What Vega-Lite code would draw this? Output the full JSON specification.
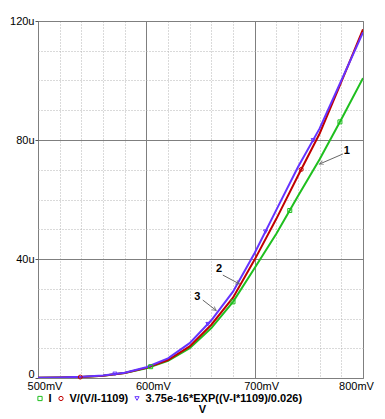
{
  "$schema": "https://vega.github.io/schema/vega-lite/v6.json",
  "width": 325,
  "height": 357,
  "autosize": {"type": "none"},
  "padding": {"left": 38, "top": 21, "right": 22, "bottom": 41},
  "background": "white",
  "config": {
    "font": "Liberation Sans",
    "view": {"stroke": "#7f7f7f", "strokeWidth": 1},
    "axis": {"labelFont": "Liberation Sans", "labelFontSize": 11, "labelColor": "#000000"}
  },
  "datasets": {
    "curves": [
      {"V": 500, "I": 0.05, "s": "I"}, {"V": 520, "I": 0.14, "s": "I"}, {"V": 540, "I": 0.33, "s": "I"},
      {"V": 560, "I": 0.75, "s": "I"}, {"V": 580, "I": 1.65, "s": "I"}, {"V": 600, "I": 3.3, "s": "I"},
      {"V": 620, "I": 5.8, "s": "I"}, {"V": 640, "I": 10.0, "s": "I"}, {"V": 660, "I": 16.8, "s": "I"},
      {"V": 680, "I": 25.6, "s": "I"}, {"V": 700, "I": 37.0, "s": "I"}, {"V": 720, "I": 48.5, "s": "I"},
      {"V": 740, "I": 61.2, "s": "I"}, {"V": 760, "I": 73.5, "s": "I"}, {"V": 780, "I": 87.0, "s": "I"},
      {"V": 800, "I": 100.8, "s": "I"},
      {"V": 500, "I": 0.05, "s": "V/(V/I-1109)"}, {"V": 520, "I": 0.14, "s": "V/(V/I-1109)"}, {"V": 540, "I": 0.33, "s": "V/(V/I-1109)"},
      {"V": 560, "I": 0.76, "s": "V/(V/I-1109)"}, {"V": 580, "I": 1.7, "s": "V/(V/I-1109)"}, {"V": 600, "I": 3.4, "s": "V/(V/I-1109)"},
      {"V": 620, "I": 6.05, "s": "V/(V/I-1109)"}, {"V": 640, "I": 10.6, "s": "V/(V/I-1109)"}, {"V": 660, "I": 17.9, "s": "V/(V/I-1109)"},
      {"V": 680, "I": 27.0, "s": "V/(V/I-1109)"}, {"V": 700, "I": 39.8, "s": "V/(V/I-1109)"}, {"V": 720, "I": 53.5, "s": "V/(V/I-1109)"},
      {"V": 740, "I": 68.0, "s": "V/(V/I-1109)"}, {"V": 760, "I": 82.2, "s": "V/(V/I-1109)"}, {"V": 780, "I": 99.5, "s": "V/(V/I-1109)"},
      {"V": 800, "I": 117.2, "s": "V/(V/I-1109)"},
      {"V": 500, "I": 0.08, "s": "3.75e-16*EXP((V-I*1109)/0.026)"}, {"V": 520, "I": 0.17, "s": "3.75e-16*EXP((V-I*1109)/0.026)"},
      {"V": 540, "I": 0.38, "s": "3.75e-16*EXP((V-I*1109)/0.026)"}, {"V": 560, "I": 0.83, "s": "3.75e-16*EXP((V-I*1109)/0.026)"},
      {"V": 580, "I": 1.8, "s": "3.75e-16*EXP((V-I*1109)/0.026)"}, {"V": 600, "I": 3.6, "s": "3.75e-16*EXP((V-I*1109)/0.026)"},
      {"V": 620, "I": 6.6, "s": "3.75e-16*EXP((V-I*1109)/0.026)"}, {"V": 640, "I": 11.7, "s": "3.75e-16*EXP((V-I*1109)/0.026)"},
      {"V": 660, "I": 19.4, "s": "3.75e-16*EXP((V-I*1109)/0.026)"}, {"V": 680, "I": 29.0, "s": "3.75e-16*EXP((V-I*1109)/0.026)"},
      {"V": 700, "I": 42.0, "s": "3.75e-16*EXP((V-I*1109)/0.026)"}, {"V": 720, "I": 56.5, "s": "3.75e-16*EXP((V-I*1109)/0.026)"},
      {"V": 740, "I": 70.9, "s": "3.75e-16*EXP((V-I*1109)/0.026)"}, {"V": 760, "I": 83.9, "s": "3.75e-16*EXP((V-I*1109)/0.026)"},
      {"V": 780, "I": 100.0, "s": "3.75e-16*EXP((V-I*1109)/0.026)"}, {"V": 800, "I": 116.2, "s": "3.75e-16*EXP((V-I*1109)/0.026)"}
    ],
    "markers": [
      {"V": 604, "I": 3.8, "s": "I"}, {"V": 680, "I": 25.6, "s": "I"}, {"V": 732.4, "I": 56.3, "s": "I"}, {"V": 778.7, "I": 86.1, "s": "I"},
      {"V": 539, "I": 0.31, "s": "V/(V/I-1109)"}, {"V": 743, "I": 70.1, "s": "V/(V/I-1109)"},
      {"V": 571, "I": 1.4, "s": "3.75e-16*EXP((V-I*1109)/0.026)"}, {"V": 656.8, "I": 18.1, "s": "3.75e-16*EXP((V-I*1109)/0.026)"},
      {"V": 710, "I": 49.2, "s": "3.75e-16*EXP((V-I*1109)/0.026)"}, {"V": 754, "I": 79.9, "s": "3.75e-16*EXP((V-I*1109)/0.026)"}
    ],
    "notes": [
      {"id": "1", "V": 785.1, "I": 76.4, "V1": 781.4, "I1": 75.3, "V2": 759.8, "I2": 71.9},
      {"id": "2", "V": 667.1, "I": 36.7, "V1": 670.6, "I1": 34.6, "V2": 686.0, "I2": 31.6},
      {"id": "3", "V": 647.0, "I": 27.3, "V1": 652.1, "I1": 26.2, "V2": 664.5, "I2": 22.7}
    ]
  },
  "resolve": {
    "axis": {"x": "independent", "y": "independent"},
    "legend": {"color": "independent", "shape": "independent"}
  },
  "layer": [
    {
      "data": {"name": "curves"},
      "mark": {"type": "line", "strokeWidth": 2, "clip": true},
      "encoding": {
        "x": {
          "field": "V", "type": "quantitative",
          "scale": {"domain": [500, 800], "nice": false, "zero": false},
          "axis": {
            "orient": "bottom",
            "values": [500, 520, 540, 560, 580, 600, 620, 640, 660, 680, 700, 720, 740, 760, 780, 800],
            "grid": true,
            "gridColor": {"condition": {"test": "datum.value % 100 === 0", "value": "#7f7f7f"}, "value": "#b4b4b4"},
            "gridDash": {"condition": {"test": "datum.value % 100 === 0", "value": []}, "value": [1, 2]},
            "gridWidth": 1,
            "domain": false,
            "ticks": false,
            "labels": false,
            "title": null
          }
        },
        "y": {
          "field": "I", "type": "quantitative",
          "scale": {"domain": [0, 120], "nice": false, "zero": false},
          "axis": {
            "orient": "left",
            "values": [0, 10, 20, 30, 40, 50, 60, 70, 80, 90, 100, 110, 120],
            "grid": true,
            "gridColor": {"condition": {"test": "datum.value % 40 === 0", "value": "#7f7f7f"}, "value": "#b4b4b4"},
            "gridDash": {"condition": {"test": "datum.value % 40 === 0", "value": []}, "value": [1, 2]},
            "gridWidth": 1,
            "domain": false,
            "ticks": false,
            "labels": false,
            "title": null
          }
        },
        "color": {
          "field": "s", "type": "nominal",
          "scale": {"domain": ["I", "V/(V/I-1109)", "3.75e-16*EXP((V-I*1109)/0.026)"], "range": ["#1fbf1f", "#c00000", "#6633ff"]},
          "legend": null
        },
        "order": {"field": "V", "type": "quantitative"}
      }
    },
    {
      "data": {"name": "markers"},
      "mark": {"type": "point", "filled": false, "size": 16, "strokeWidth": 1, "opacity": 1},
      "encoding": {
        "x": {
          "field": "V", "type": "quantitative",
          "axis": {
            "orient": "bottom",
            "values": [500, 600, 700, 800],
            "grid": false,
            "domain": false,
            "ticks": false,
            "labelExpr": "datum.value + 'mV'",
            "labelAlign": "center",
            "labelOffset": {"condition": {"test": "datum.value === 800", "value": -7}, "value": 6.5},
            "labelPadding": 2,
            "labelBaseline": "top",
            "labelFlush": false,
            "labelOverlap": false,
            "title": "V",
            "titleFont": "Liberation Sans",
            "titleFontSize": 11,
            "titleFontWeight": "bold",
            "titleColor": "#000000",
            "titleX": 164,
            "titleY": 34,
            "titleAlign": "center",
            "titleBaseline": "alphabetic"
          }
        },
        "y": {
          "field": "I", "type": "quantitative",
          "axis": {
            "orient": "left",
            "values": [0, 40, 80, 120],
            "grid": false,
            "domain": false,
            "ticks": true,
            "tickColor": "#555555",
            "tickSize": 3,
            "labelExpr": "datum.value === 0 ? '0' : datum.value + 'u'",
            "labelOffset": {"condition": {"test": "datum.value === 0", "value": -4}, "value": 0},
            "labelPadding": 1,
            "labelFlush": false,
            "labelOverlap": false,
            "title": null
          }
        },
        "color": {
          "field": "s", "type": "nominal",
          "scale": {"domain": ["I", "V/(V/I-1109)", "3.75e-16*EXP((V-I*1109)/0.026)"], "range": ["#1fbf1f", "#c00000", "#6633ff"]},
          "legend": {
            "orient": "none", "legendX": -3.5, "legendY": 372, "direction": "horizontal", "title": null,
            "labelFont": "Liberation Sans", "labelFontSize": 11, "labelFontWeight": "bold", "labelColor": "#000000",
            "labelOffset": 3, "columnPadding": 3, "symbolSize": 18, "symbolStrokeWidth": 1, "padding": 0,
            "gridAlign": "none", "labelLimit": 300
          }
        },
        "shape": {
          "field": "s", "type": "nominal",
          "scale": {"domain": ["I", "V/(V/I-1109)", "3.75e-16*EXP((V-I*1109)/0.026)"], "range": ["square", "circle", "triangle-down"]},
          "legend": {
            "orient": "none", "legendX": -3.5, "legendY": 372, "direction": "horizontal", "title": null,
            "labelFont": "Liberation Sans", "labelFontSize": 11, "labelFontWeight": "bold", "labelColor": "#000000",
            "labelOffset": 3, "columnPadding": 3, "symbolSize": 18, "symbolStrokeWidth": 1, "padding": 0,
            "gridAlign": "none", "labelLimit": 300
          }
        }
      }
    },
    {
      "data": {"name": "notes"},
      "mark": {"type": "rule", "color": "#666666", "strokeWidth": 1},
      "encoding": {
        "x": {"field": "V1", "type": "quantitative", "axis": null},
        "y": {"field": "I1", "type": "quantitative", "axis": null},
        "x2": {"field": "V2"},
        "y2": {"field": "I2"}
      }
    },
    {
      "data": {"name": "notes"},
      "transform": [{"filter": "datum.id === '1'"}],
      "mark": {"type": "point", "shape": "M-0.5,1L0,0L0.5,1", "size": 64, "filled": false, "color": "#666666", "strokeWidth": 1, "angle": 247},
      "encoding": {"x": {"field": "V2", "type": "quantitative", "axis": null}, "y": {"field": "I2", "type": "quantitative", "axis": null}}
    },
    {
      "data": {"name": "notes"},
      "transform": [{"filter": "datum.id === '2'"}],
      "mark": {"type": "point", "shape": "M-0.5,1L0,0L0.5,1", "size": 64, "filled": false, "color": "#666666", "strokeWidth": 1, "angle": 118},
      "encoding": {"x": {"field": "V2", "type": "quantitative", "axis": null}, "y": {"field": "I2", "type": "quantitative", "axis": null}}
    },
    {
      "data": {"name": "notes"},
      "transform": [{"filter": "datum.id === '3'"}],
      "mark": {"type": "point", "shape": "M-0.5,1L0,0L0.5,1", "size": 64, "filled": false, "color": "#666666", "strokeWidth": 1, "angle": 127},
      "encoding": {"x": {"field": "V2", "type": "quantitative", "axis": null}, "y": {"field": "I2", "type": "quantitative", "axis": null}}
    },
    {
      "data": {"name": "notes"},
      "mark": {"type": "text", "font": "Liberation Sans", "fontSize": 11, "fontWeight": "bold", "color": "#000000", "align": "center", "baseline": "middle"},
      "encoding": {
        "x": {"field": "V", "type": "quantitative", "axis": null},
        "y": {"field": "I", "type": "quantitative", "axis": null},
        "text": {"field": "id", "type": "nominal"}
      }
    }
  ]
}
